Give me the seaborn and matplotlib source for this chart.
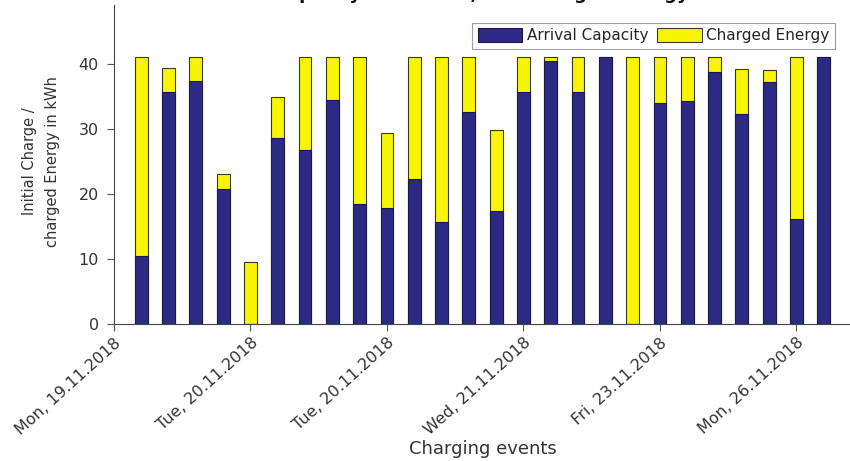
import matplotlib
matplotlib.use("Agg")
import matplotlib.pyplot as plt
import seaborn as sns
import pandas as pd

# ---- data ----
events = [1, 2, 3, 4, 5, 6, 7, 8, 9, 10, 11, 12, 13,
          14, 15, 16, 17, 18, 19, 20, 21, 22, 23, 24, 25, 26]
arrival_capacity = [10.5, 35.7, 37.4, 20.8, 0.0, 28.6, 26.7, 34.4, 18.5, 17.8, 22.3, 15.6, 32.6,
                    17.4, 35.7, 40.4, 35.7, 41.0, 0.0, 34.0, 34.2, 38.7, 32.2, 37.2, 16.2, 41.0]
charged_energy = [30.5, 3.6, 3.6, 2.3, 9.5, 6.2, 14.3, 6.6, 22.5, 11.5, 18.7, 25.4, 8.4,
                  12.4, 5.3, 0.6, 5.3, 0.0, 41.0, 7.0, 6.8, 2.3, 6.9, 1.8, 24.8, 0.0]
tick_positions = [0, 5, 10, 15, 20, 25]
tick_labels = ["Mon, 19.11.2018", "Tue, 20.11.2018", "Tue, 20.11.2018",
               "Wed, 21.11.2018", "Fri, 23.11.2018", "Mon, 26.11.2018"]

df = pd.DataFrame({"event": events,
                   "arrival": arrival_capacity,
                   "charged": charged_energy})
df["total"] = df["arrival"] + df["charged"]

BLUE = "#2d2a86"
YELLOW = "#f7f500"
EDGE = "#3b3a1a"

sns.set_theme(style="white")
plt.rcParams["font.family"] = ["DejaVu Sans"]

fig = plt.figure(figsize=(8.5, 4.61), dpi=100)
ax = fig.add_axes([114 / 850, (461 - 324) / 461, 737 / 850, 319 / 461])

sns.barplot(data=df, x="event", y="total", native_scale=True, color=YELLOW,
            saturation=1, width=0.47, edgecolor=EDGE, linewidth=0.8,
            label="Charged Energy", ax=ax)
sns.barplot(data=df, x="event", y="arrival", native_scale=True, color=BLUE,
            saturation=1, width=0.47, edgecolor="#1c1a4a", linewidth=0.8,
            label="Arrival Capacity", ax=ax)

ax.set_xlim(0, 27)
ax.set_ylim(0, 49)
ax.set_yticks([0, 10, 20, 30, 40])
ax.set_xticks(tick_positions)
ax.set_xticklabels(tick_labels, rotation=42, ha="right", va="top",
                   rotation_mode="anchor", fontsize=11.5, color="#333333")
for lbl in ax.get_yticklabels():
    lbl.set_fontsize(11.5)
    lbl.set_color("#333333")

ax.tick_params(axis="x", direction="out", length=5, width=0.8,
               color="#555555", bottom=True, pad=3)
ax.tick_params(axis="y", direction="out", length=5, width=0.8,
               color="#555555", left=True, pad=6)
for side in ["top", "right"]:
    ax.spines[side].set_visible(False)
for side in ["left", "bottom"]:
    ax.spines[side].set_color("#444444")
    ax.spines[side].set_linewidth(0.8)

ax.set_xlabel("Charging events", fontsize=13, color="#333333")
ax.xaxis.set_label_coords(0.50, -0.365)
ax.set_ylabel("Initial Charge /\ncharged Energy in kWh", fontsize=10.5,
              color="#333333", linespacing=1.65)
ax.yaxis.set_label_coords(-0.073, 0.51)

handles, labels = ax.get_legend_handles_labels()
order = [labels.index("Arrival Capacity"), labels.index("Charged Energy")]
leg = ax.legend([handles[i] for i in order], [labels[i] for i in order],
                loc="upper right", bbox_to_anchor=(0.978, 0.944),
                borderaxespad=0, ncol=2, fontsize=11, frameon=True,
                fancybox=False, handlelength=2.9, handleheight=1.0,
                handletextpad=0.3, columnspacing=0.6, borderpad=0.35)
leg.get_frame().set_edgecolor("#888888")
leg.get_frame().set_linewidth(0.8)

fig.text(0.567, 1 + 1.0 / 461,
         "Arrival Capacity of the EVs, and Charged Energy in kWh",
         ha="center", va="baseline", fontsize=13, fontweight="bold",
         color="#111111")

fig.savefig("out.png", dpi=100)
